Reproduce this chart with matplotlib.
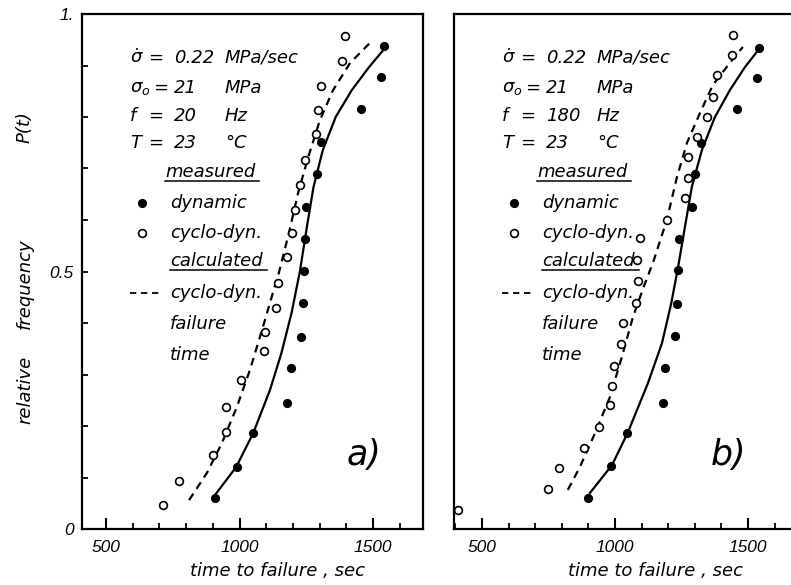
import matplotlib.pyplot as plt
from matplotlib.ticker import MultipleLocator
import numpy as np

plt.rcParams['font.family'] = ['DejaVu Sans']
plt.rcParams['font.style'] = 'italic'
plt.rcParams['mathtext.fontset'] = 'dejavusans'
plt.rcParams['mathtext.default'] = 'it'

# panel a) f = 20 Hz
a_dyn_t = [908, 990, 1051, 1178, 1193, 1230, 1238, 1241, 1245, 1249, 1290, 1305, 1455, 1530, 1541]
a_dyn_p = [0.060, 0.120, 0.186, 0.245, 0.312, 0.373, 0.438, 0.501, 0.563, 0.625, 0.689, 0.751, 0.815, 0.878, 0.938]
a_cyc_t = [713, 773, 901, 949, 949, 1006, 1092, 1096, 1137, 1144, 1178, 1197, 1208, 1227, 1245, 1287, 1294, 1305, 1384, 1395]
a_cyc_p = [0.047, 0.093, 0.144, 0.188, 0.237, 0.289, 0.346, 0.382, 0.429, 0.478, 0.528, 0.575, 0.620, 0.668, 0.716, 0.767, 0.814, 0.860, 0.909, 0.957]
a_dyn_calc_t = [908, 987, 1051, 1114, 1157, 1195, 1226, 1252, 1277, 1312, 1360, 1420, 1485, 1545]
a_dyn_calc_p = [0.066, 0.120, 0.186, 0.270, 0.342, 0.420, 0.500, 0.586, 0.664, 0.736, 0.800, 0.852, 0.897, 0.934]
a_cyc_calc_t = [811, 878, 934, 990, 1039, 1084, 1120, 1147, 1185, 1219, 1257, 1301, 1350, 1414, 1500]
a_cyc_calc_p = [0.056, 0.109, 0.167, 0.237, 0.309, 0.386, 0.450, 0.497, 0.575, 0.652, 0.722, 0.794, 0.852, 0.905, 0.950]

# panel b) f = 180 Hz
b_dyn_t = [898, 985, 1045, 1180, 1188, 1226, 1233, 1236, 1241, 1289, 1301, 1323, 1459, 1534, 1541]
b_dyn_p = [0.060, 0.122, 0.186, 0.245, 0.313, 0.375, 0.437, 0.503, 0.563, 0.625, 0.689, 0.749, 0.815, 0.876, 0.934]
b_cyc_t = [410, 748, 789, 883, 940, 981, 989, 996, 1022, 1030, 1079, 1086, 1083, 1094, 1195,
           1263, 1274, 1274, 1308, 1346, 1368, 1383, 1440, 1444]
b_cyc_p = [0.037, 0.078, 0.118, 0.157, 0.198, 0.241, 0.278, 0.317, 0.359, 0.400, 0.439, 0.482, 0.522, 0.565, 0.600,
           0.643, 0.682, 0.722, 0.761, 0.800, 0.839, 0.882, 0.920, 0.959]
b_dyn_calc_t = [906, 989, 1049, 1124, 1177, 1212, 1238, 1263, 1289, 1327, 1376, 1432, 1489, 1545]
b_dyn_calc_p = [0.070, 0.124, 0.188, 0.283, 0.361, 0.439, 0.510, 0.586, 0.664, 0.736, 0.800, 0.852, 0.897, 0.934]
b_cyc_calc_t = [823, 868, 925, 981, 1026, 1068, 1108, 1145, 1195, 1233, 1271, 1320, 1368, 1432, 1481]
b_cyc_calc_p = [0.076, 0.120, 0.186, 0.256, 0.334, 0.412, 0.470, 0.520, 0.600, 0.683, 0.750, 0.808, 0.862, 0.905, 0.936]

freqs = ["20", "180"]
panel_tags = ["a)", "b)"]
xticks = [500, 1000, 1500]
yticks = [0, 0.5, 1.0]
ytick_labels = ["0", "0.5", "1."]

W, H = 791, 585
fig = plt.figure(figsize=(W / 100, H / 100), dpi=100)

def px_axes(left, top, right, bottom):
    return fig.add_axes([left / W, 1 - bottom / H, (right - left) / W, (bottom - top) / H])

ax_a = px_axes(82, 14, 423, 529)
ax_b = px_axes(454, 14, 795, 529)

tick_font = dict(family='Liberation Sans', style='italic', size=12.5)
txt = dict(fontsize=13, va='center', ha='left')
MS = 5.6


def draw(ax, dyn_t, dyn_p, cyc_t, cyc_p, dc_t, dc_p, cc_t, cc_p, xlim, freq, tag, tag_x, first):
    ax.plot(dc_t, dc_p, color='black', lw=1.6)
    ax.plot(cc_t, cc_p, color='black', lw=1.6, ls=(0, (3.5, 2.6)))
    ax.plot(dyn_t, dyn_p, 'o', color='black', ms=MS, clip_on=False)
    ax.plot(cyc_t, cyc_p, 'o', mfc='white', mec='black', mew=1.2, ms=MS, clip_on=False)
    ax.set_xlim(*xlim)
    ax.set_ylim(0, 1)
    for s in ax.spines.values():
        s.set_linewidth(1.6)
    ax.set_xticks(xticks)
    ax.set_xticklabels([str(v) for v in xticks], fontdict=tick_font)
    ax.xaxis.set_minor_locator(MultipleLocator(100))
    ax.tick_params(axis='x', which='major', direction='in', length=8, width=1.5, pad=8, top=False)
    ax.tick_params(axis='x', which='minor', direction='in', length=4, width=1.3, top=False)
    if first:
        ax.set_yticks(yticks)
        ax.set_yticklabels(ytick_labels, fontdict=tick_font)
        ax.yaxis.set_minor_locator(MultipleLocator(0.1))
        ax.tick_params(axis='y', which='both', direction='in', length=4.5, width=1.3, pad=6, right=False)
    else:
        ax.set_yticks([])
        ax.tick_params(axis='y', which='both', left=False, right=False)

    T = ax.transAxes
    def fx(px):
        return (px - 82) / 341
    def fy(py):
        return (529 - py) / 515
    rows = [(r'$\dot{\sigma}$', 148, "0.22", "MPa/sec"),
            (r'$\sigma_o$', 153, "21", "MPa"),
            ("f", 148, freq, "Hz"),
            ("T", 148, "23", "°C")]
    for (sym, eq_x, val, unit), py in zip(rows, [58, 88, 116, 143]):
        ax.text(fx(130), fy(py), sym, transform=T, **txt)
        ax.text(fx(eq_x), fy(py), "=", transform=T, **txt)
        ax.text(fx(174), fy(py), val, transform=T, **txt)
        ax.text(fx(225), fy(py), unit, transform=T, **txt)
    ax.text(fx(165), fy(172), "measured", transform=T, **txt)
    ax.plot([fx(165), fx(259)], [fy(181), fy(181)], transform=T, color='black', lw=1.1)
    ax.plot([fx(142)], [fy(203)], 'o', color='black', ms=MS, transform=T)
    ax.text(fx(170), fy(203), "dynamic", transform=T, **txt)
    ax.plot([fx(142)], [fy(233)], 'o', mfc='white', mec='black', mew=1.2, ms=MS, transform=T)
    ax.text(fx(170), fy(233), "cyclo-dyn.", transform=T, **txt)
    ax.text(fx(170), fy(261), "calculated", transform=T, **txt)
    ax.plot([fx(170), fx(267)], [fy(270), fy(270)], transform=T, color='black', lw=1.1)
    ax.plot([fx(130), fx(161)], [fy(293), fy(293)], transform=T, color='black', lw=1.3,
            ls=(0, (3.5, 2.6)))
    ax.text(fx(170), fy(293), "cyclo-dyn.", transform=T, **txt)
    ax.text(fx(170), fy(324), "failure", transform=T, **txt)
    ax.text(fx(170), fy(355), "time", transform=T, **txt)
    ax.text(fx(tag_x), fy(455), tag, transform=T, fontsize=25, ha='center', va='center')


draw(ax_a, a_dyn_t, a_dyn_p, a_cyc_t, a_cyc_p, a_dyn_calc_t, a_dyn_calc_p,
     a_cyc_calc_t, a_cyc_calc_p, (410, 1687), freqs[0], panel_tags[0], 364, True)
draw(ax_b, b_dyn_t, b_dyn_p, b_cyc_t, b_cyc_p, b_dyn_calc_t, b_dyn_calc_p,
     b_cyc_calc_t, b_cyc_calc_p, (395, 1677), freqs[1], panel_tags[1], 357, False)

fig.text(277 / W, 1 - 571 / H, "time to failure , sec", fontsize=13, ha='center', va='center')
fig.text(656 / W, 1 - 571 / H, "time to failure , sec", fontsize=13, ha='center', va='center')
fig.text(25 / W, 1 - 127 / H, "P(t)", fontsize=13, rotation=90, ha='center', va='center')
fig.text(25 / W, 1 - 284 / H, "frequency", fontsize=13, rotation=90, ha='center', va='center')
fig.text(25 / W, 1 - 390 / H, "relative", fontsize=13, rotation=90, ha='center', va='center')

fig.savefig("out.png", dpi=100)
